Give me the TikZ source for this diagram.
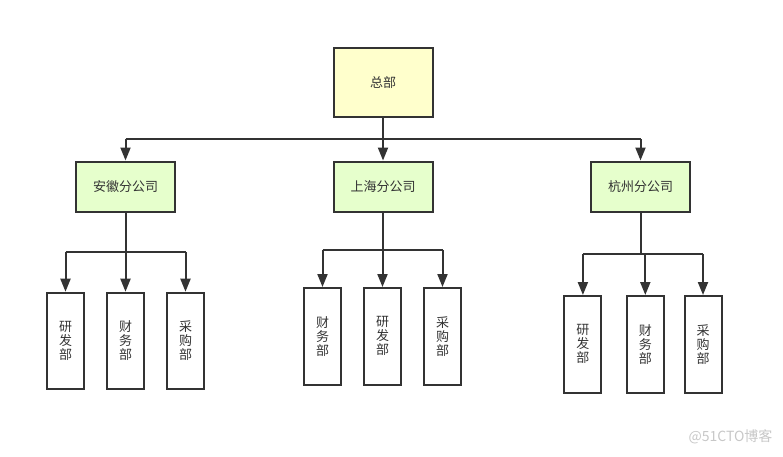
\documentclass[tikz,border=0pt]{standalone}
\usepackage{fontspec}
\newfontfamily\cjk{Noto Sans CJK SC}
\usetikzlibrary{arrows.meta, positioning, calc}
\definecolor{linegray}{HTML}{333333}
\definecolor{rootfill}{HTML}{FFFFCC}
\definecolor{branchfill}{HTML}{E6FFCC}

\begin{document}
\begin{tikzpicture}[
    x=1pt, y=1pt,
    every node/.style={font=\cjk\fontsize{13}{14}\selectfont, text=linegray},
    box/.style={rectangle, draw=linegray, line width=2pt, inner sep=0pt},
    rootbox/.style={box, fill=rootfill, minimum width=99pt, minimum height=69pt},
    branch/.style={box, fill=branchfill, minimum width=99pt, minimum height=50pt},
    dept/.style={box, fill=white, minimum width=37pt, minimum height=96.5pt, align=center},
    conn/.style={draw=linegray, line width=2pt},
    arrow/.style={conn, -{Triangle[length=13pt, width=10pt]}}
]
\useasboundingbox (0,0) rectangle (783,-456);

% head office and branches
\node[rootbox] (root) at (383,-82.8) {总部};
\node[branch, below=42.2pt of root] (sh) {上海分公司};
\node[branch, left=156.5pt of sh] (ah) {安徽分公司};
\node[branch, right=156.5pt of sh] (hz) {杭州分公司};

% departments
\node[dept, below=79.2pt of ah] (ah2) {财\\务\\部};
\node[dept, left=21pt of ah2] (ah1) {研\\发\\部};
\node[dept, right=21pt of ah2] (ah3) {采\\购\\部};

\node[dept, below=74.5pt of sh, xshift=-0.5pt] (sh2) {研\\发\\部};
\node[dept, left=21pt of sh2] (sh1) {财\\务\\部};
\node[dept, right=21pt of sh2] (sh3) {采\\购\\部};

\node[dept, below=82.5pt of hz, xshift=4.8pt] (hz2) {财\\务\\部};
\node[dept, left=23.4pt of hz2] (hz1) {研\\发\\部};
\node[dept, right=18.7pt of hz2] (hz3) {采\\购\\部};

% bars
\coordinate (bar0) at ($(root.south)!0.5!(sh.north)$);
\coordinate (bar1) at ($(ah.south)!0.5!(ah2.north)$);
\coordinate (bar2) at ($(sh.south)!0.5!(sh2.north)$);
\coordinate (bar3) at ($(hz.south)!0.5!(hz2.north)$);

\draw[conn] (root.south) -- (root.south |- bar0);
\draw[conn] (ah.north |- bar0) -- (hz.north |- bar0);
\foreach \b in {ah, sh, hz}
  \draw[arrow] (\b.north |- bar0) -- (\b.north);

\foreach \b/\n in {ah/1, sh/2, hz/3} {
  \draw[conn] (\b.south) -- (\b.south |- bar\n);
  \draw[conn] (\b1.north |- bar\n) -- (\b3.north |- bar\n);
  \foreach \d in {1,2,3}
    \draw[arrow] (\b\d.north |- bar\n) -- (\b\d.north);
}

% watermark
\node[anchor=east, text=black!22, font=\cjk\fontsize{14}{16}\selectfont] (mark) at (776,-437) {@51CTO博客};
\end{tikzpicture}
\end{document}
